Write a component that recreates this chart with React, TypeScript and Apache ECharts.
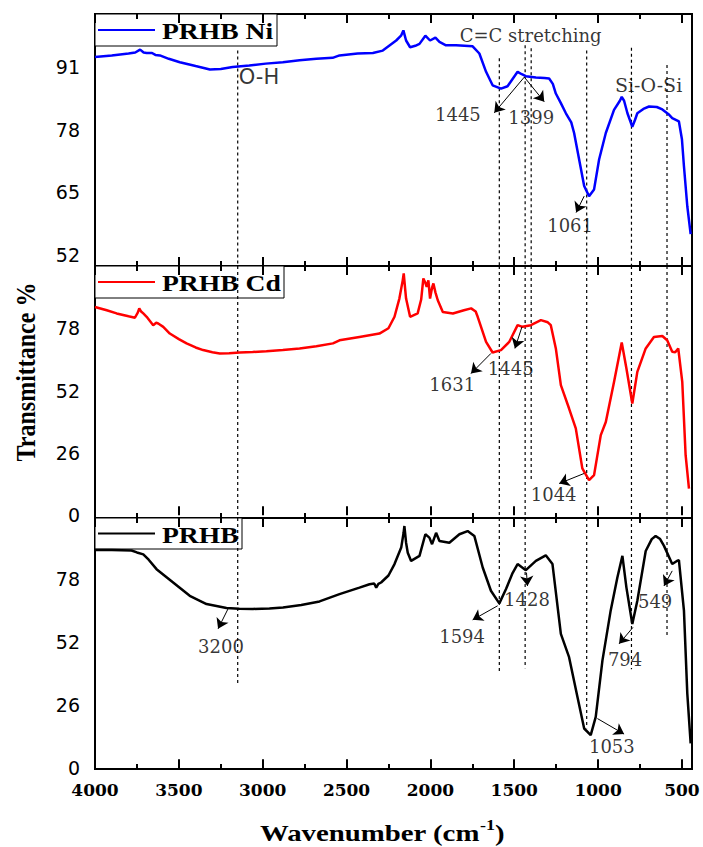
import React, { useEffect, useRef } from "react";
import * as echarts from "echarts";

// ---------- data ----------
const X_MIN = 440;
const X_MAX = 4000;
const xTickLabels = [4000, 3500, 3000, 2500, 2000, 1500, 1000, 500];
const xMinorTicks = [3750, 3250, 2750, 2250, 1750, 1250, 750];

const panelNames = ["PRHB Ni", "PRHB Cd", "PRHB"];
const panelColors = ["#0000ff", "#ff0000", "#000000"];
const niTicks = [52, 65, 78, 91];
const cdTicks = [0, 26, 52, 78];
const prhbTicks = [0, 26, 52, 78];
const niRange = [49.7, 102];
const cdRange = [-1.2, 104];
const prhbRange = [-0.3, 103.2];

const niSpectrum = [
  [4000, 93.1], [3900, 93.4], [3800, 93.8], [3760, 94.0], [3731, 94.6], [3710, 94.0], [3692, 93.9],
  [3660, 93.9], [3640, 93.5], [3613, 93.4], [3560, 92.7], [3494, 92.0], [3400, 91.2], [3315, 90.5],
  [3250, 90.6], [3179, 91.0], [3080, 91.3], [2982, 91.7], [2880, 92.0], [2780, 92.4], [2680, 92.7],
  [2583, 92.9], [2542, 93.4], [2434, 93.8], [2343, 93.9], [2284, 94.4], [2204, 96.5], [2175, 97.5],
  [2161, 98.6], [2145, 96.5], [2121, 95.1], [2090, 95.4], [2065, 95.8], [2030, 97.5], [2002, 96.5],
  [1970, 97.1], [1946, 96.2], [1907, 95.5], [1847, 95.5], [1748, 95.3], [1708, 93.8], [1668, 90.0],
  [1629, 87.2], [1579, 86.5], [1540, 87.0], [1510, 88.5], [1480, 90.0], [1455, 89.5], [1431, 89.1],
  [1371, 88.8], [1320, 88.7], [1292, 88.6], [1270, 87.5], [1252, 85.5], [1222, 83.5], [1192, 81.4],
  [1160, 79.5], [1143, 77.3], [1113, 71.8], [1083, 66.3], [1054, 64.2], [1024, 65.6], [994, 71.8],
  [954, 77.3], [905, 82.1], [870, 84.0], [859, 84.8], [845, 84.0], [825, 81.4], [796, 78.6],
  [780, 80.0], [766, 81.4], [730, 82.3], [696, 82.8], [650, 82.7], [617, 82.2], [580, 81.2],
  [558, 80.4], [518, 79.7], [500, 76.0], [488, 70.4], [468, 62.1], [448, 56.3],
];

const cdSpectrum = [
  [4000, 86.9], [3930, 85.5], [3871, 84.2], [3800, 83.0], [3762, 82.4], [3745, 84.5], [3736, 86.3],
  [3725, 85.0], [3712, 84.2], [3692, 82.8], [3653, 79.3], [3635, 80.3], [3623, 80.0], [3593, 78.6],
  [3554, 75.8], [3500, 73.5], [3454, 71.7], [3400, 70.0], [3355, 68.9], [3300, 68.0], [3256, 67.5],
  [3200, 67.6], [3137, 67.9], [3060, 68.1], [2978, 68.4], [2880, 68.9], [2780, 69.6], [2680, 70.5],
  [2581, 71.7], [2542, 73.0], [2423, 74.4], [2304, 75.8], [2250, 78.0], [2214, 82.8], [2185, 90.4],
  [2165, 98.0], [2159, 100.9], [2150, 94.0], [2145, 90.4], [2121, 82.8], [2076, 84.2], [2055, 90.0],
  [2042, 98.8], [2030, 97.0], [2022, 95.3], [2012, 98.0], [2002, 90.4], [1990, 95.0], [1982, 96.7],
  [1970, 93.0], [1956, 89.7], [1926, 84.8], [1866, 84.2], [1800, 85.5], [1757, 86.3], [1730, 85.0],
  [1718, 82.8], [1668, 72.3], [1629, 67.9], [1579, 68.9], [1530, 72.3], [1480, 79.3], [1451, 78.6],
  [1401, 79.3], [1341, 81.4], [1300, 80.5], [1282, 79.3], [1252, 69.6], [1222, 54.3], [1173, 44.5],
  [1133, 36.2], [1094, 19.5], [1054, 14.6], [1024, 16.7], [984, 33.4], [954, 38.9], [905, 55.6],
  [859, 72.1], [831, 61.2], [796, 46.6], [766, 59.8], [716, 69.6], [667, 74.4], [617, 74.8],
  [588, 73.0], [558, 68.2], [540, 68.0], [522, 69.6], [498, 55.6], [478, 25.0], [458, 11.1],
];

const prhbSpectrum = [
  [4000, 90.0], [3900, 90.0], [3782, 89.8], [3750, 89.0], [3712, 88.2], [3680, 86.0], [3633, 82.1],
  [3534, 76.6], [3435, 71.1], [3335, 67.7], [3216, 66.1], [3140, 65.8], [3058, 65.7], [2960, 65.9],
  [2879, 66.3], [2770, 67.3], [2661, 68.8], [2542, 71.8], [2423, 74.5], [2363, 75.9], [2335, 76.2],
  [2323, 74.5], [2310, 76.0], [2294, 76.6], [2250, 79.5], [2214, 84.2], [2174, 91.0], [2160, 97.0],
  [2155, 99.9], [2145, 93.0], [2135, 88.9], [2115, 85.5], [2065, 87.6], [2030, 96.5], [2006, 95.1],
  [1990, 92.4], [1966, 97.1], [1946, 93.7], [1887, 93.0], [1827, 96.5], [1778, 97.8], [1738, 95.8],
  [1688, 82.8], [1639, 73.2], [1589, 68.0], [1549, 73.9], [1510, 80.5], [1480, 84.2], [1431, 81.7],
  [1371, 85.5], [1312, 87.8], [1272, 84.2], [1222, 55.4], [1173, 45.8], [1123, 29.4], [1083, 16.4],
  [1044, 13.7], [1014, 21.2], [974, 44.5], [925, 65.0], [885, 78.7], [855, 87.6], [831, 74.5],
  [796, 59.5], [766, 69.1], [716, 89.6], [680, 94.5], [657, 95.8], [630, 94.5], [607, 91.7],
  [558, 84.2], [530, 85.5], [518, 85.8], [488, 65.0], [468, 30.8], [448, 10.3],
];

// dashed reference lines: wavenumber, start [panel, value], end [panel, value]
const refLines = [
  { w: 3149, from: [0, 94.4], to: [2, 34.2] },
  { w: 1589, from: [0, 92.8], to: [2, 39.1] },
  { w: 1435, from: [0, 95.5], to: [2, 41.2] },
  { w: 1399, from: [0, 94.9], to: [1, 14.6] },
  { w: 1068, from: [0, 94.4], to: [2, 16.5] },
  { w: 801, from: [0, 95.0], to: [2, 40.8] },
  { w: 589, from: [0, 91.4], to: [2, 54.3] },
];

// annotation texts: [text, wavenumber, transmittance]
const niNotes = [
  ["C=C stretching", 1399, 97.5],
  ["Si-O-Si", 696, 87.2],
  ["1445", 1833, 81.0],
  ["1399", 1396, 80.4],
  ["1061", 1164, 58.0],
];
const niOH = ["O-H", 3140, 88.9];
const cdNotes = [
  ["1631", 1867, 54.3],
  ["1445", 1518, 61.2],
  ["1044", 1262, 8.3],
];
const prhbNotes = [
  ["3200", 3246, 49.9],
  ["1594", 1808, 54.0],
  ["1428", 1421, 69.4],
  ["794", 836, 44.5],
  ["549", 657, 68.4],
  ["1053", 915, 8.9],
];

// arrows: [from, to]
const niArrows = [
  [[1440, 88.9], [1619, 81.5]],
  [[1440, 88.9], [1321, 83.8]],
  [[1083, 64.2], [1131, 60.8]],
];
const cdArrows = [
  [[1639, 67.5], [1758, 59.1]],
  [[1454, 78.6], [1496, 69.6]],
  [[1083, 17.4], [1232, 13.2]],
];
const prhbArrows = [
  [[3207, 65.7], [3266, 57.5]],
  [[1599, 67.0], [1748, 61.2]],
  [[1427, 80.7], [1421, 75.2]],
  [[792, 58.1], [875, 51.3]],
  [[558, 81.4], [607, 75.2]],
  [[1004, 20.5], [845, 14.1]],
];

// ---------- layout ----------
const W = 703;
const H = 847;
const LEFT = 95;
const RIGHT = 11;
const panelTops = [14, 266, 518];
const panelHeights = [252, 252, 251];

const SERIF = "'Liberation Serif', 'Times New Roman', serif";

function buildOption() {
  const spectra = [niSpectrum, cdSpectrum, prhbSpectrum];
  const ranges = [niRange, cdRange, prhbRange];
  const ticks = [niTicks, cdTicks, prhbTicks];
  const notes = [niNotes, cdNotes, prhbNotes];
  const arrows = [niArrows, cdArrows, prhbArrows];

  const grid = panelTops.map((t, i) => ({
    left: LEFT,
    right: RIGHT,
    top: t,
    height: panelHeights[i],
    show: true,
    borderColor: "#000",
    borderWidth: 2,
    backgroundColor: "transparent",
  }));

  const xAxis: any[] = [];
  for (let i = 0; i < 3; i++) {
    const mk = (position: string, major: boolean, withLabels: boolean) => ({
      type: "value",
      gridIndex: i,
      position,
      min: X_MIN,
      max: X_MAX,
      inverse: true,
      axisLine: { show: false },
      splitLine: { show: false },
      axisTick: {
        show: true,
        inside: true,
        length: major ? 9 : 5,
        lineStyle: { color: "#000", width: 2 },
        customValues: major ? xTickLabels : xMinorTicks,
      },
      axisLabel: withLabels
        ? {
            show: true,
            customValues: xTickLabels,
            formatter: (v: number) => String(v),
            fontFamily: "'DejaVu Serif', serif",
            fontWeight: "bold",
            fontSize: 17,
            color: "#000",
            margin: 12,
          }
        : { show: false },
    });
    xAxis.push(mk("bottom", true, i === 2));
    xAxis.push(mk("bottom", false, false));
    xAxis.push(mk("top", true, false));
    xAxis.push(mk("top", false, false));
  }

  const yAxis = ranges.map((r, i) => ({
    type: "value",
    gridIndex: i,
    min: r[0],
    max: r[1],
    axisLine: { show: false },
    axisTick: { show: false },
    splitLine: { show: false },
    axisLabel: {
      show: true,
      customValues: ticks[i],
      formatter: (v: number) => String(v),
      fontFamily: "'DejaVu Sans', sans-serif",
      fontSize: 19,
      color: "#000",
      margin: 15,
    },
  }));

  const series: any[] = [];

  // dashed reference lines, split per panel
  refLines.forEach((ref, k) => {
    for (let p = ref.from[0]; p <= ref.to[0]; p++) {
      const y1 = p === ref.from[0] ? ref.from[1] : ranges[p][1];
      const y2 = p === ref.to[0] ? ref.to[1] : ranges[p][0];
      series.push({
        type: "line",
        name: "ref" + k + "_" + p,
        xAxisIndex: p * 4,
        yAxisIndex: p,
        data: [
          [ref.w, y1],
          [ref.w, y2],
        ],
        symbol: "none",
        silent: true,
        z: 1,
        lineStyle: { color: "#000", width: 1.2, type: [3, 3] },
      });
    }
  });

  spectra.forEach((s, i) => {
    series.push({
      type: "line",
      name: panelNames[i],
      xAxisIndex: i * 4,
      yAxisIndex: i,
      data: s,
      symbol: "none",
      showSymbol: false,
      silent: true,
      z: 3,
      lineStyle: { color: panelColors[i], width: 2.5 },
    });
  });

  notes.forEach((list, i) => {
    const items: any[] = list.map((n) => ({
      value: [n[1], n[2]],
      label: {
        formatter: String(n[0]),
        fontFamily: "'DejaVu Serif', serif",
        fontSize: n[0] === "Si-O-Si" ? 19 : 18,
        align: "center",
      },
    }));
    if (i === 0) {
      items.push({
        value: [niOH[1], niOH[2]],
        label: {
          formatter: String(niOH[0]),
          fontFamily: "'DejaVu Sans', sans-serif",
          fontSize: 21,
          align: "left",
        },
      });
    }
    series.push({
      type: "scatter",
      name: "notes" + i,
      xAxisIndex: i * 4,
      yAxisIndex: i,
      symbol: "circle",
      symbolSize: 1,
      silent: true,
      z: 5,
      itemStyle: { color: "rgba(0,0,0,0)" },
      label: {
        show: true,
        position: [0, 0],
        verticalAlign: "middle",
        color: "#000",
      },
      data: items,
      markLine: {
        silent: true,
        symbol: ["none", "arrow"],
        symbolSize: 10,
        label: { show: false },
        itemStyle: { color: "#000" },
        lineStyle: { color: "#000", width: 1, type: "solid", opacity: 1 },
        emphasis: { disabled: true },
        data: arrows[i].map((a) => [{ coord: a[0] }, { coord: a[1] }]),
      },
    });
  });

  const legendBoxes = [
    { y: 14, w: 182, h: 32 },
    { y: 266, w: 189, h: 32 },
    { y: 518, w: 147, h: 31 },
  ];
  const graphic: any[] = [];
  legendBoxes.forEach((b, i) => {
    const cy = b.y + b.h / 2;
    graphic.push({
      type: "group",
      z: 100,
      children: [
        {
          type: "rect",
          shape: { x: LEFT, y: b.y, width: b.w, height: b.h },
          style: { fill: "#fff", stroke: "#000", lineWidth: 1 },
        },
        {
          type: "line",
          shape: { x1: LEFT + 3, y1: cy, x2: LEFT + 60, y2: cy },
          style: { stroke: panelColors[i], lineWidth: 2 },
        },
        {
          type: "text",
          x: LEFT + 67,
          y: cy + 1,
          scaleX: 1.2,
          style: {
            text: panelNames[i],
            font: "bold 23px " + SERIF,
            fill: "#000",
            verticalAlign: "middle",
            align: "left",
          },
        },
      ],
    });
  });

  // axis titles
  graphic.push({
    type: "text",
    x: 260,
    y: 833,
    scaleX: 1.2,
    style: {
      text: "{a|Wavenumber (cm}{s|-1}{a|)}",
      verticalAlign: "middle",
      align: "left",
      rich: {
        a: { font: "bold 24px " + SERIF, fill: "#000", lineHeight: 30 },
        s: { font: "bold 15px " + SERIF, fill: "#000", verticalAlign: "top", lineHeight: 16 },
      },
    },
  });
  graphic.push({
    type: "text",
    x: 26,
    y: 372,
    rotation: Math.PI / 2,
    scaleY: 1.15,
    style: {
      text: "Transmittance %",
      font: "bold 24px " + SERIF,
      fill: "#000",
      align: "center",
      verticalAlign: "middle",
    },
  });

  return {
    animation: false,
    backgroundColor: "#fff",
    grid,
    xAxis,
    yAxis,
    series,
    graphic,
  };
}

export default function App() {
  const ref = useRef<HTMLDivElement>(null);
  useEffect(() => {
    if (!ref.current) return;
    const chart = echarts.init(ref.current, null, { renderer: "svg", width: W, height: H });
    chart.setOption(buildOption() as any);
    return () => chart.dispose();
  }, []);
  return (
    <div
      ref={ref}
      style={{ position: "fixed", left: 0, top: 0, width: W, height: H, background: "#fff" }}
    />
  );
}
